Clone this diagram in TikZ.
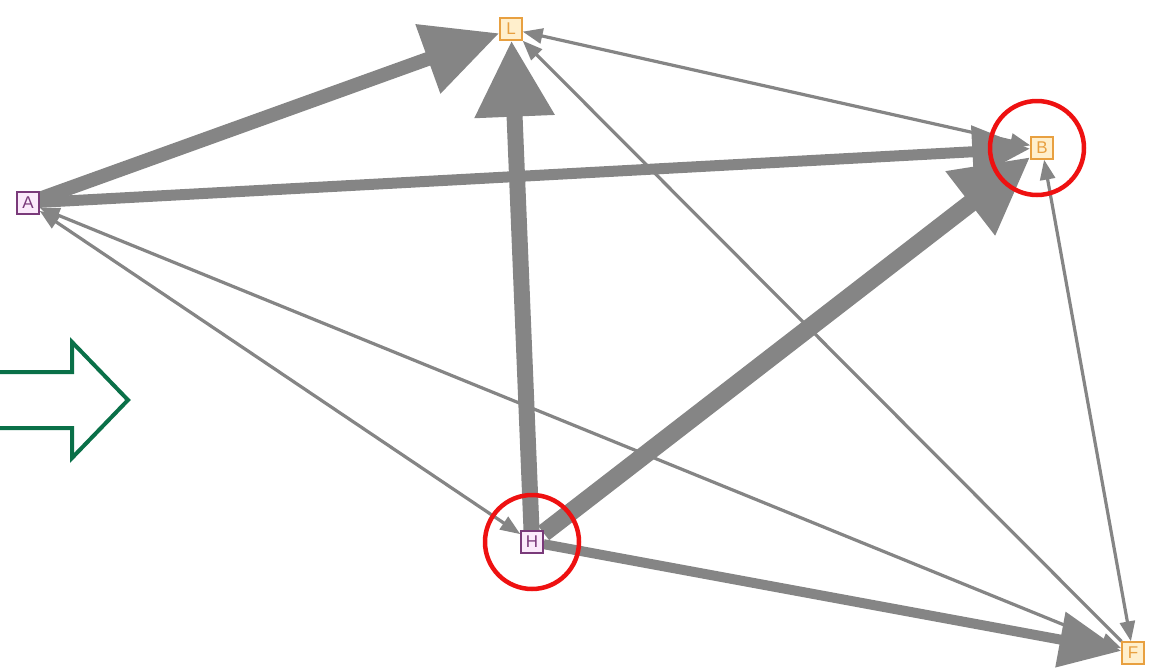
\documentclass[tikz,border=0pt]{standalone}
\usepackage{fontspec}
\setmainfont{Liberation Sans}
\usetikzlibrary{arrows.meta,backgrounds}
\definecolor{edgegray}{HTML}{858585}
\definecolor{purp}{HTML}{7A3A7A}
\definecolor{purpfill}{HTML}{FBEAFB}
\definecolor{oran}{HTML}{E8A040}
\definecolor{oranfill}{HTML}{FFEFCC}
\definecolor{ringred}{HTML}{EE1111}
\definecolor{arrgreen}{HTML}{0A7048}
\tikzset{
  vbox/.style={draw, line width=1.3pt, minimum size=22pt, inner sep=0pt,
    font=\fontsize{17}{17}\selectfont},
  pnode/.style={vbox, draw=purp, fill=purpfill, text=purp},
  onode/.style={vbox, draw=oran, fill=oranfill, text=oran},
  thin edge/.style={draw=edgegray, line width=3.2pt,
    {Triangle[length=20pt,width=15pt]}-{Triangle[length=20pt,width=15pt]}},
  thin one/.style={draw=edgegray, line width=3.2pt,
    -{Triangle[length=20pt,width=15pt]}},
  ring/.style={draw=ringred, line width=4.5pt},
}
\begin{document}
\begin{tikzpicture}[x=1pt,y=-1pt]
\useasboundingbox (0,0) rectangle (1163,670);
\node[pnode] (A) at (28,203) {A};
\node[onode] (L) at (511,29) {L};
\node[onode] (B) at (1042,148) {B};
\node[pnode] (H) at (532,542) {H};
\node[onode] (F) at (1133,653) {F};
\begin{scope}[on background layer]
  \draw[thin edge] (L) -- (B);
  \draw[thin one] (F) -- (L);
  \draw[thin edge] (B) -- (F);
  \draw[thin edge] (A) -- (H);
  \draw[thin edge] (A) -- (F);
  \draw[draw=edgegray, line width=14pt, -{Triangle[length=76pt,width=70pt]}] (A) -- (L);
  \draw[draw=edgegray, line width=11pt, -{Triangle[length=58pt,width=50pt]}] (A) -- (B);
  \draw[draw=edgegray, line width=16pt, -{Triangle[length=76pt,width=76pt]}] (H) -- (L);
  \draw[draw=edgegray, line width=18pt, -{Triangle[length=76pt,width=76pt]}] (H) -- (B);
  \draw[draw=edgegray, line width=10pt, -{Triangle[length=62pt,width=54pt]}] (H) -- (F);
\end{scope}
\coordinate (rB) at (1037,148);
\coordinate (rH) at (532,542);
\draw[ring] (rB) circle (47);
\draw[ring] (rH) circle (47);
\coordinate (g1) at (-5,372);
\coordinate (g2) at (72,372);
\coordinate (g3) at (72,342);
\coordinate (g4) at (128,400);
\coordinate (g5) at (72,458);
\coordinate (g6) at (72,428);
\coordinate (g7) at (-5,428);
\draw[draw=arrgreen, line width=4pt] (g1) -- (g2) -- (g3) -- (g4) -- (g5) -- (g6) -- (g7);
\end{tikzpicture}
\end{document}
